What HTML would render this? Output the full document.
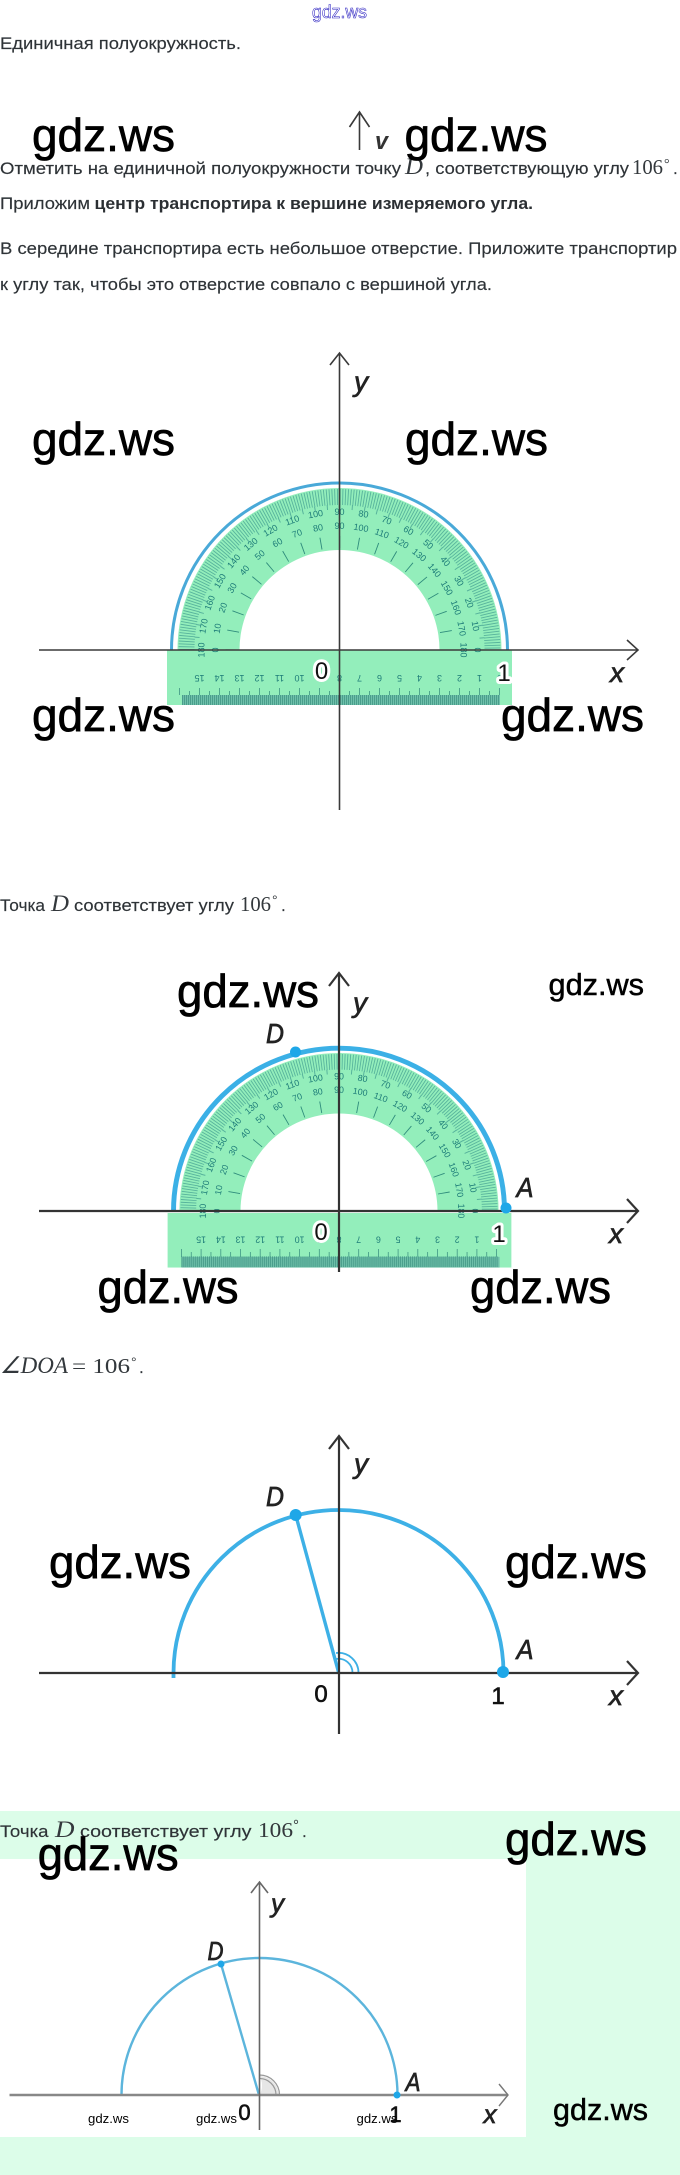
<!DOCTYPE html>
<html lang="ru">
<head>
<meta charset="utf-8">
<title>Единичная полуокружность</title>
<style>
html,body{margin:0;padding:0;background:#fff}
svg{display:block}
text{font-family:"Liberation Sans",sans-serif}
.t{font-size:17px;fill:#2e3337;stroke:#2e3337;stroke-width:.15px}
.b{font-size:17px;fill:#2b2f33;font-weight:bold}
.m{font-family:"Liberation Serif",serif;font-size:21px;fill:#33383c}
.mi{font-family:"Liberation Serif",serif;font-size:23px;font-style:italic;fill:#33383c}
.w{font-size:46px;fill:#000;stroke:#000;stroke-width:.7px}
.w2{font-size:31px;fill:#000;stroke:#000;stroke-width:.5px}
.w3{font-size:13px;fill:#000}
.l{font-size:28px;font-style:italic;fill:#222;text-anchor:middle;stroke:#222;stroke-width:.7px}
.d{font-size:24px;fill:#111;text-anchor:middle;stroke:#111;stroke-width:.6px}
.h{paint-order:stroke;stroke:#fff;stroke-width:6px;stroke-linejoin:round}
.n text{font-size:9px;fill:#1d7c78;text-anchor:middle}
.ax{fill:none;stroke:#3a3a3a;stroke-width:1.6}
.ax2{fill:none;stroke:#333;stroke-width:2.2}
</style>
</head>
<body>
<svg xmlns="http://www.w3.org/2000/svg" width="680" height="2175" viewBox="0 0 680 2175">
<defs><clipPath id="up"><rect x="-200" y="-200" width="400" height="200"/></clipPath></defs>

<!-- top -->
<text x="312" y="18" font-size="18" textLength="55" lengthAdjust="spacingAndGlyphs" fill="#fff" stroke="#2a20c0" stroke-width="0.55">gdz.ws</text>
<text class="t" x="0" y="49" textLength="241" lengthAdjust="spacingAndGlyphs">Единичная полуокружность.</text>

<path class="ax" d="M359.5 112V150M349.5 127L359.5 112L369.5 127"/>
<text x="375" y="149" font-size="24" font-style="italic" font-weight="bold" fill="#333" textLength="13" lengthAdjust="spacingAndGlyphs">v</text>

<text class="t" x="0" y="174" textLength="401" lengthAdjust="spacingAndGlyphs">Отметить на единичной полуокружности точку</text>
<text class="mi" x="405" y="174" textLength="18" lengthAdjust="spacingAndGlyphs">D</text>
<text class="t" x="425" y="174" textLength="204" lengthAdjust="spacingAndGlyphs">, соответствующую углу</text>
<text class="m" x="632" y="174" textLength="31" lengthAdjust="spacingAndGlyphs">106</text>
<text class="m" x="664" y="168" style="font-size:14px">°</text>
<text class="t" x="673" y="174">.</text>
<text x="32" y="151" class="w" textLength="143" lengthAdjust="spacingAndGlyphs">gdz.ws</text>
<text x="404.5" y="151" class="w" textLength="143" lengthAdjust="spacingAndGlyphs">gdz.ws</text>

<text class="t" x="0" y="209" textLength="90" lengthAdjust="spacingAndGlyphs">Приложим</text>
<text class="b" x="94.5" y="209" textLength="438.5" lengthAdjust="spacingAndGlyphs">центр транспортира к вершине измеряемого угла.</text>
<text class="t" x="0" y="254" textLength="677" lengthAdjust="spacingAndGlyphs">В середине транспортира есть небольшое отверстие. Приложите транспортир</text>
<text class="t" x="0" y="290" textLength="492" lengthAdjust="spacingAndGlyphs">к углу так, чтобы это отверстие совпало с вершиной угла.</text>

<!-- diagram 1 -->
<g transform="translate(339.5,650)">
  <rect x="-172.5" y="0" width="345" height="55" fill="#93eebb"/>
  <path d="M-162 0A162 162 0 0 1 162 0L100 0A100 100 0 0 0 -100 0Z" fill="#93eebb"/>
  <circle r="153" fill="none" stroke="#57b39c" stroke-width="16" stroke-dasharray=".9 1.77" clip-path="url(#up)"/>
  <circle r="143" fill="none" stroke="#57b39c" stroke-width="5" stroke-dasharray="1 11.48" stroke-dashoffset=".5" clip-path="url(#up)"/>
  <circle r="108" fill="none" stroke="#2f8c7c" stroke-width="12" stroke-dasharray=".9 17.95" stroke-dashoffset=".45" clip-path="url(#up)"/>
  <path d="M-168 0A168 167 0 0 1 168 0" fill="none" stroke="#49a9d8" stroke-width="3"/>
  <rect x="-157.5" y="45" width="318" height="10" fill="#6fc0aa"/>
  <line x1="-157.5" x2="160.5" y1="50" y2="50" stroke="#4a9e8c" stroke-width="10" stroke-dasharray="1 1"/>
  <line x1="-160.4" x2="161" y1="41.5" y2="41.5" stroke="#3f9584" stroke-width="7" stroke-dasharray=".8 19.2"/>
  <line x1="-150.4" x2="161" y1="43" y2="43" stroke="#3f9584" stroke-width="4" stroke-dasharray=".8 19.2"/>
  <g class="n" transform="translate(0,28) rotate(180)">
    <text x="140" y="3">15</text><text x="120" y="3">14</text><text x="100" y="3">13</text><text x="80" y="3">12</text><text x="60" y="3">11</text><text x="40" y="3">10</text><text x="20" y="3">9</text><text x="0" y="3">8</text><text x="-20" y="3">7</text><text x="-40" y="3">6</text><text x="-60" y="3">5</text><text x="-80" y="3">4</text><text x="-100" y="3">3</text><text x="-120" y="3">2</text><text x="-140" y="3">1</text><text x="-160" y="3">0</text>
  </g>
  <g class="n">
    <g transform="rotate(-90)"><text y="-135">180</text><text y="-121">0</text></g>
    <g transform="rotate(-80)"><text y="-135">170</text><text y="-121">10</text></g>
    <g transform="rotate(-70)"><text y="-135">160</text><text y="-121">20</text></g>
    <g transform="rotate(-60)"><text y="-135">150</text><text y="-121">30</text></g>
    <g transform="rotate(-50)"><text y="-135">140</text><text y="-121">40</text></g>
    <g transform="rotate(-40)"><text y="-135">130</text><text y="-121">50</text></g>
    <g transform="rotate(-30)"><text y="-135">120</text><text y="-121">60</text></g>
    <g transform="rotate(-20)"><text y="-135">110</text><text y="-121">70</text></g>
    <g transform="rotate(-10)"><text y="-135">100</text><text y="-121">80</text></g>
    <g><text y="-135">90</text><text y="-121">90</text></g>
    <g transform="rotate(10)"><text y="-135">80</text><text y="-121">100</text></g>
    <g transform="rotate(20)"><text y="-135">70</text><text y="-121">110</text></g>
    <g transform="rotate(30)"><text y="-135">60</text><text y="-121">120</text></g>
    <g transform="rotate(40)"><text y="-135">50</text><text y="-121">130</text></g>
    <g transform="rotate(50)"><text y="-135">40</text><text y="-121">140</text></g>
    <g transform="rotate(60)"><text y="-135">30</text><text y="-121">150</text></g>
    <g transform="rotate(70)"><text y="-135">20</text><text y="-121">160</text></g>
    <g transform="rotate(80)"><text y="-135">10</text><text y="-121">170</text></g>
    <g transform="rotate(90)"><text y="-135">0</text><text y="-121">180</text></g>
  </g>
</g>
<path class="ax" d="M339.5 810V353M330 365L339.5 353L349 365"/>
<path class="ax" stroke="#555" d="M39 650H638M627 640L638 650L627 660"/>
<text class="l" x="361" y="391">y</text>
<text class="l" x="617" y="682">x</text>
<text class="d h" x="321.5" y="679">0</text>
<text class="d h" x="504" y="681">1</text>
<text x="32" y="455" class="w" textLength="143" lengthAdjust="spacingAndGlyphs">gdz.ws</text>
<text x="405" y="455" class="w" textLength="143" lengthAdjust="spacingAndGlyphs">gdz.ws</text>
<text x="32" y="731" class="w" textLength="143" lengthAdjust="spacingAndGlyphs">gdz.ws</text>
<text x="501" y="731" class="w" textLength="143" lengthAdjust="spacingAndGlyphs">gdz.ws</text>

<!-- section 2 -->
<text class="t" x="0" y="911" textLength="45" lengthAdjust="spacingAndGlyphs">Точка</text>
<text class="mi" x="51" y="911" textLength="18" lengthAdjust="spacingAndGlyphs">D</text>
<text class="t" x="74" y="911" textLength="160" lengthAdjust="spacingAndGlyphs">соответствует углу</text>
<text class="m" x="240" y="911" textLength="31" lengthAdjust="spacingAndGlyphs">106</text>
<text x="272" y="905" font-family="Liberation Serif" font-size="14" fill="#33383c">°</text>
<text class="t" x="281" y="911">.</text>

<g transform="translate(339,1211) scale(.985,.975)">
  <rect x="-174" y="2" width="349" height="56" fill="#93eebb"/>
  <path d="M-162 0A162 162 0 0 1 162 0L100 0A100 100 0 0 0 -100 0Z" fill="#93eebb"/>
  <circle r="153" fill="none" stroke="#57b39c" stroke-width="16" stroke-dasharray=".9 1.77" clip-path="url(#up)"/>
  <circle r="143" fill="none" stroke="#57b39c" stroke-width="5" stroke-dasharray="1 11.48" stroke-dashoffset=".5" clip-path="url(#up)"/>
  <circle r="108" fill="none" stroke="#2f8c7c" stroke-width="12" stroke-dasharray=".9 17.95" stroke-dashoffset=".45" clip-path="url(#up)"/>
  <path d="M-168 0A168 167 0 0 1 168 0" fill="none" stroke="#3bb0e6" stroke-width="5"/>
  <rect x="-160" y="47" width="323" height="11" fill="#6fc0aa"/>
  <line x1="-160" x2="162" y1="52" y2="52" stroke="#4a9e8c" stroke-width="11" stroke-dasharray="1 1"/>
  <line x1="-160.4" x2="163" y1="43" y2="43" stroke="#3f9584" stroke-width="8" stroke-dasharray=".8 19.2"/>
  <line x1="-150.4" x2="161" y1="44.5" y2="44.5" stroke="#3f9584" stroke-width="5" stroke-dasharray=".8 19.2"/>
  <g class="n" transform="translate(0,29) rotate(180)">
    <text x="140" y="3">15</text><text x="120" y="3">14</text><text x="100" y="3">13</text><text x="80" y="3">12</text><text x="60" y="3">11</text><text x="40" y="3">10</text><text x="20" y="3">9</text><text x="0" y="3">8</text><text x="-20" y="3">7</text><text x="-40" y="3">6</text><text x="-60" y="3">5</text><text x="-80" y="3">4</text><text x="-100" y="3">3</text><text x="-120" y="3">2</text><text x="-140" y="3">1</text>
  </g>
  <g class="n">
    <g transform="rotate(-90)"><text y="-135">180</text><text y="-121">0</text></g>
    <g transform="rotate(-80)"><text y="-135">170</text><text y="-121">10</text></g>
    <g transform="rotate(-70)"><text y="-135">160</text><text y="-121">20</text></g>
    <g transform="rotate(-60)"><text y="-135">150</text><text y="-121">30</text></g>
    <g transform="rotate(-50)"><text y="-135">140</text><text y="-121">40</text></g>
    <g transform="rotate(-40)"><text y="-135">130</text><text y="-121">50</text></g>
    <g transform="rotate(-30)"><text y="-135">120</text><text y="-121">60</text></g>
    <g transform="rotate(-20)"><text y="-135">110</text><text y="-121">70</text></g>
    <g transform="rotate(-10)"><text y="-135">100</text><text y="-121">80</text></g>
    <g><text y="-135">90</text><text y="-121">90</text></g>
    <g transform="rotate(10)"><text y="-135">80</text><text y="-121">100</text></g>
    <g transform="rotate(20)"><text y="-135">70</text><text y="-121">110</text></g>
    <g transform="rotate(30)"><text y="-135">60</text><text y="-121">120</text></g>
    <g transform="rotate(40)"><text y="-135">50</text><text y="-121">130</text></g>
    <g transform="rotate(50)"><text y="-135">40</text><text y="-121">140</text></g>
    <g transform="rotate(60)"><text y="-135">30</text><text y="-121">150</text></g>
    <g transform="rotate(70)"><text y="-135">20</text><text y="-121">160</text></g>
    <g transform="rotate(80)"><text y="-135">10</text><text y="-121">170</text></g>
    <g transform="rotate(90)"><text y="-135">0</text><text y="-121">180</text></g>
  </g>
</g>
<path class="ax2" d="M339 1272V973M329 986L339 973L349 986M39 1211H638M627 1199L638 1211L627 1223"/>
<circle cx="295.5" cy="1052" r="5.5" fill="#1ea7e8"/>
<circle cx="506" cy="1208" r="5.5" fill="#1ea7e8"/>
<text class="l" x="360" y="1012">y</text>
<text class="l" x="275" y="1043" textLength="18" lengthAdjust="spacingAndGlyphs">D</text>
<text class="l" x="525" y="1197" textLength="17" lengthAdjust="spacingAndGlyphs">A</text>
<text class="l" x="616" y="1243">x</text>
<text class="d h" x="321" y="1240">0</text>
<text class="d h" x="499" y="1242">1</text>
<text x="177" y="1007" class="w" textLength="142" lengthAdjust="spacingAndGlyphs">gdz.ws</text>
<text x="548.5" y="995" class="w2" textLength="95.5" lengthAdjust="spacingAndGlyphs">gdz.ws</text>
<text x="97.5" y="1303" class="w" textLength="141" lengthAdjust="spacingAndGlyphs">gdz.ws</text>
<text x="470" y="1303" class="w" textLength="141" lengthAdjust="spacingAndGlyphs">gdz.ws</text>

<text class="mi" x="0" y="1373" textLength="68" lengthAdjust="spacingAndGlyphs">∠DOA</text>
<text class="m" x="72" y="1373" textLength="58" lengthAdjust="spacingAndGlyphs">= 106</text>
<text x="131" y="1367" font-family="Liberation Serif" font-size="14" fill="#33383c">°</text>
<text class="t" x="139" y="1373">.</text>

<!-- diagram 3 -->
<path d="M173.5 1678V1673A165 163 0 0 1 503.5 1673" fill="none" stroke="#3db0e6" stroke-width="3.8"/>
<path d="M295.7 1515L338.5 1672" fill="none" stroke="#3db0e6" stroke-width="3.4"/>
<path d="M358.5 1673A20 20 0 0 0 336 1653M352.5 1673A14 14 0 0 0 336 1659" fill="none" stroke="#3db0e6" stroke-width="1.8"/>
<path class="ax2" d="M339 1734V1436M329 1449L339 1436L349 1449"/>
<path class="ax2" d="M39 1673H638M627 1661L638 1673L627 1685"/>
<circle cx="295.7" cy="1515" r="6" fill="#1ea7e8"/>
<circle cx="503" cy="1672" r="6" fill="#1ea7e8"/>
<text class="l" x="361" y="1473">y</text>
<text class="l" x="275" y="1506" textLength="18" lengthAdjust="spacingAndGlyphs">D</text>
<text class="l" x="525" y="1659" textLength="17" lengthAdjust="spacingAndGlyphs">A</text>
<text class="l" x="616" y="1705">x</text>
<text class="d" x="321" y="1702">0</text>
<text class="d" x="498" y="1704">1</text>
<text x="49" y="1578" class="w" textLength="142" lengthAdjust="spacingAndGlyphs">gdz.ws</text>
<text x="505" y="1578" class="w" textLength="142" lengthAdjust="spacingAndGlyphs">gdz.ws</text>

<!-- section 4 -->
<rect x="0" y="1811" width="680" height="364" fill="#dcfde9"/>
<rect x="0" y="1859" width="526" height="278" fill="#fff"/>
<text class="t" x="0" y="1837" textLength="48.5" lengthAdjust="spacingAndGlyphs">Точка</text>
<text class="mi" x="55" y="1837" textLength="19.5" lengthAdjust="spacingAndGlyphs">D</text>
<text class="t" x="80" y="1837" textLength="171.5" lengthAdjust="spacingAndGlyphs">соответствует углу</text>
<text class="m" x="258" y="1837" textLength="35" lengthAdjust="spacingAndGlyphs">106</text>
<text x="293" y="1830" font-family="Liberation Serif" font-size="15" fill="#33383c">°</text>
<text class="t" x="302" y="1837">.</text>

<path d="M259.5 2095A19 19 0 0 0 259.5 2076A19 19 0 0 1 278.5 2095Z" fill="#e6e6e6"/>
<path d="M279.5 2095A20 20 0 0 0 259.5 2075M276 2095A16.5 16.5 0 0 0 259.5 2078.5" fill="none" stroke="#999" stroke-width="1.2"/>
<path d="M121.5 2095A138 137 0 0 1 397.5 2095" fill="none" stroke="#5cb5dc" stroke-width="2.4"/>
<path d="M221 1964L259 2095" fill="none" stroke="#5cb5dc" stroke-width="2.4"/>
<path d="M9.5 2095H508" fill="none" stroke="#888" stroke-width="2.4"/>
<path d="M499 2084L508 2095L499 2106" fill="none" stroke="#777" stroke-width="1.4"/>
<path d="M259.5 2130V1882M251 1893L259.5 1882L268 1893" fill="none" stroke="#666" stroke-width="1.6"/>
<circle cx="221" cy="1964" r="3.5" fill="#1ea7e8"/>
<circle cx="397" cy="2095" r="3.5" fill="#1ea7e8"/>
<text class="l" x="277.5" y="1912" style="font-size:26px">y</text>
<text class="l" x="215.5" y="1960" style="font-size:26px" textLength="16" lengthAdjust="spacingAndGlyphs">D</text>
<text class="l" x="413" y="2091" style="font-size:26px" textLength="15" lengthAdjust="spacingAndGlyphs">A</text>
<text class="l" x="490" y="2123" style="font-size:26px">x</text>
<text class="d" x="244.5" y="2120" style="font-size:22px">0</text>
<text class="d" x="395.5" y="2122" style="font-size:22px">1</text>

<text x="37.7" y="1870" class="w" textLength="141" lengthAdjust="spacingAndGlyphs">gdz.ws</text>
<text x="505" y="1855" class="w" textLength="142" lengthAdjust="spacingAndGlyphs">gdz.ws</text>
<text x="553" y="2120" class="w2" textLength="95" lengthAdjust="spacingAndGlyphs">gdz.ws</text>
<text x="88" y="2123" class="w3" textLength="41" lengthAdjust="spacingAndGlyphs">gdz.ws</text>
<text x="196" y="2123" class="w3" textLength="41" lengthAdjust="spacingAndGlyphs">gdz.ws</text>
<text x="356.5" y="2123" class="w3" textLength="41" lengthAdjust="spacingAndGlyphs">gdz.ws</text>
</svg>
</body>
</html>
